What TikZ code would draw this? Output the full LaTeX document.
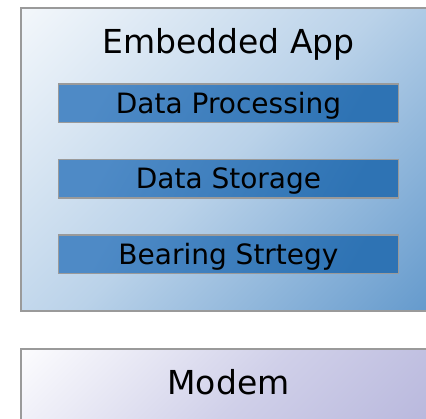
\documentclass[tikz,border=0pt]{standalone}
\usepackage{fontspec}
\setmainfont{DejaVu Sans}
\definecolor{frame}{HTML}{9A9A9A}
\definecolor{appLight}{HTML}{F3F7FB}
\definecolor{appMid}{HTML}{BAD2E9}
\definecolor{appDark}{HTML}{6399CC}
\definecolor{barLight}{HTML}{4E8AC6}
\definecolor{barDark}{HTML}{2E73B4}
\definecolor{modemLight}{HTML}{FCFCFE}
\definecolor{modemMid}{HTML}{D0D0E9}
\definecolor{modemDark}{HTML}{B3B2DA}
% diagonal fills spread over the whole box (top-left light, bottom-right dark)
\pgfdeclareverticalshading{appfill}{100bp}{color(0bp)=(appDark); color(14.6bp)=(appDark);
  color(50bp)=(appMid); color(85.4bp)=(appLight); color(100bp)=(appLight)}
\pgfdeclareverticalshading{modemfill}{100bp}{color(0bp)=(modemDark); color(14.6bp)=(modemDark);
  color(50bp)=(modemMid); color(85.4bp)=(modemLight); color(100bp)=(modemLight)}
\tikzset{
  layerbox/.style={draw=frame, line width=2pt, inner sep=0pt},
  appbox/.style={layerbox, shade, shading=appfill, shading angle=45},
  modembox/.style={layerbox, shade, shading=modemfill, shading angle=45},
  title/.style={font=\fontsize{33}{36}\selectfont, text=black, anchor=base, inner sep=0pt},
  barbox/.style={draw=frame, line width=1.5pt, top color=barLight, bottom color=barDark,
    shading angle=60,
    minimum width=340pt, minimum height=38.5pt, inner sep=0pt,
    font=\fontsize{28}{32}\selectfont, text=black, text height=20.4pt, text depth=0pt}
}
\begin{document}
\begin{tikzpicture}[x=1pt, y=-1pt]
  \useasboundingbox (0,0) rectangle (426,419);
  \fill[white] (0,0) rectangle (426,419);
  \clip (0,0) rectangle (426,419);

  % application layer
  \node[appbox, minimum width=415pt, minimum height=303pt] (app) at (228.5,159.5) {};
  \node[title] (apptitle) at (228.5,53.5) {Embedded App};
  \node[barbox] (proc)  at (228.5,103.4) {Data Processing};
  \node[barbox] (store) at (228.5,178.8) {Data Storage};
  \node[barbox] (bear)  at (228.5,254.2) {Bearing Strtegy};

  % modem layer
  \node[modembox, minimum width=415pt, minimum height=120pt] (modem) at (228.5,409) {};
  \node[title] (modemtitle) at (228.5,395) {Modem};
\end{tikzpicture}
\end{document}
